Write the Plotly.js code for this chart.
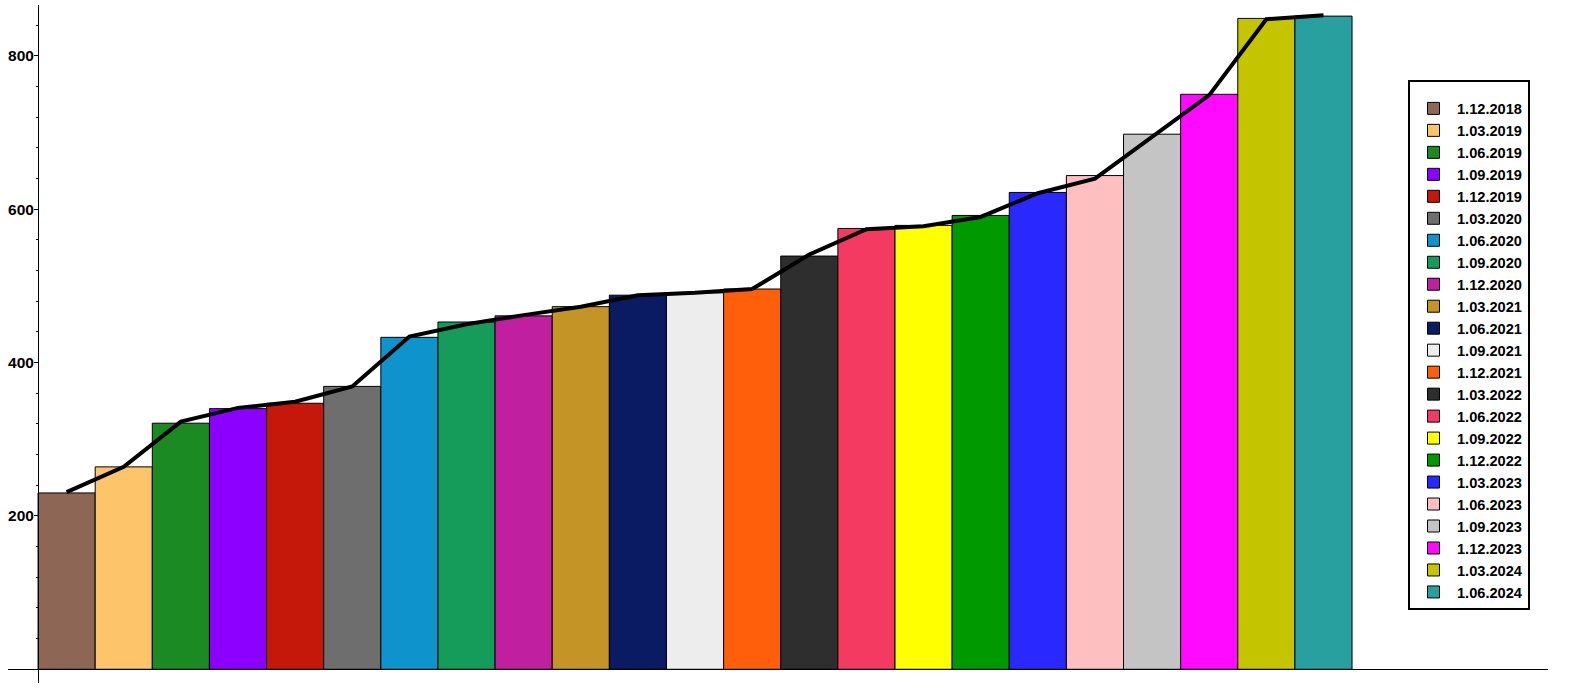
<!DOCTYPE html>
<html>
<head>
<meta charset="utf-8">
<script src="https://cdn.plot.ly/plotly-3.0.1.min.js"></script>
<style>
html,body{margin:0;padding:0;background:#fff;}
#chart{width:1572px;height:688px;}
</style>
</head>
<body>
<div id="chart"></div>
<script>
const categories = ["1.12.2018","1.03.2019","1.06.2019","1.09.2019","1.12.2019","1.03.2020","1.06.2020","1.09.2020","1.12.2020","1.03.2021","1.06.2021","1.09.2021","1.12.2021","1.03.2022","1.06.2022","1.09.2022","1.12.2022","1.03.2023","1.06.2023","1.09.2023","1.12.2023","1.03.2024","1.06.2024"];
const barValues = [230, 264, 321, 340, 347, 369, 433, 453, 461, 473, 488, 491, 496, 539, 575, 579, 592, 622, 644, 698, 750, 849, 852];
const lineValues = [231, 264, 323, 341, 349, 369, 434, 450, 462, 473, 488, 491, 496, 541, 574, 578, 590, 621, 640, 694, 749, 848, 853];
const barColors = ["#8E6656","#FDC46A","#1B8A22","#8B00FF","#C5180A","#6E6E6E","#0E93CD","#159C5A","#C020A0","#C49426","#0A1A63","#EDEDED","#FF5F0A","#2E2E2E","#F53A62","#FFFF00","#009A00","#2828FF","#FDBFBF","#C4C4C4","#FF0AFF","#C4C400","#28A0A0"];
const yTickVals = [200, 400, 600, 800];

const traces = categories.map((c, i) => ({
  type: 'bar',
  name: c,
  x: [c],
  y: [barValues[i]],
  width: 1,
  marker: {color: barColors[i], line: {color: '#000', width: 1}},
  hoverinfo: 'x+y'
}));
traces.push({
  type: 'scatter',
  mode: 'lines',
  x: categories,
  y: lineValues,
  line: {color: '#000', width: 4},
  showlegend: false
});

const yMin = -17.9, yMax = 866.5;
const xMin = -1.026, xMax = 25.93;

const layout = {
  width: 1572, height: 688,
  margin: {l: 8, r: 24, t: 5, b: 5, pad: 0},
  paper_bgcolor: '#fff', plot_bgcolor: '#fff',
  barmode: 'overlay',
  bargap: 0,
  showlegend: true,
  xaxis: {
    type: 'category',
    range: [xMin, xMax],
    anchor: 'free',
    position: (0 - yMin) / (yMax - yMin),
    showline: true, linecolor: '#000', linewidth: 1,
    showticklabels: false, ticks: '', showgrid: false, zeroline: false,
    fixedrange: true
  },
  yaxis: {
    range: [yMin, yMax],
    anchor: 'free',
    position: (-0.5 - xMin) / (xMax - xMin),
    showline: true, linecolor: '#000', linewidth: 1,
    tickvals: yTickVals,
    ticktext: yTickVals.map(String),
    ticks: 'outside', ticklen: 4, tickwidth: 1, tickcolor: '#000',
    ticklabelstandoff: -3,
    minor: {dtick: 40, tick0: 0, ticks: 'outside', ticklen: 2, tickcolor: '#000', tickwidth: 1, showgrid: false},
    tickfont: {family: '"Liberation Sans Narrow", Arial Narrow, sans-serif', size: 15.5, color: '#000', weight: 'bold'},
    showgrid: false, zeroline: false,
    fixedrange: true
  },
  legend: {
    x: (1408 - 8) / 1540, y: (683 - 80) / 678,
    xanchor: 'left', yanchor: 'top',
    bordercolor: '#000', borderwidth: 2, bgcolor: '#fff',
    font: {family: '"Liberation Sans", Arial, sans-serif', size: 14.6, color: '#000', weight: 'bold'},
    traceorder: 'normal',
    itemwidth: 37,
    title: {text: ' ', font: {size: 8}}
  }
};

Plotly.newPlot('chart', traces, layout, {displayModeBar: false, staticPlot: true});
</script>
</body>
</html>
